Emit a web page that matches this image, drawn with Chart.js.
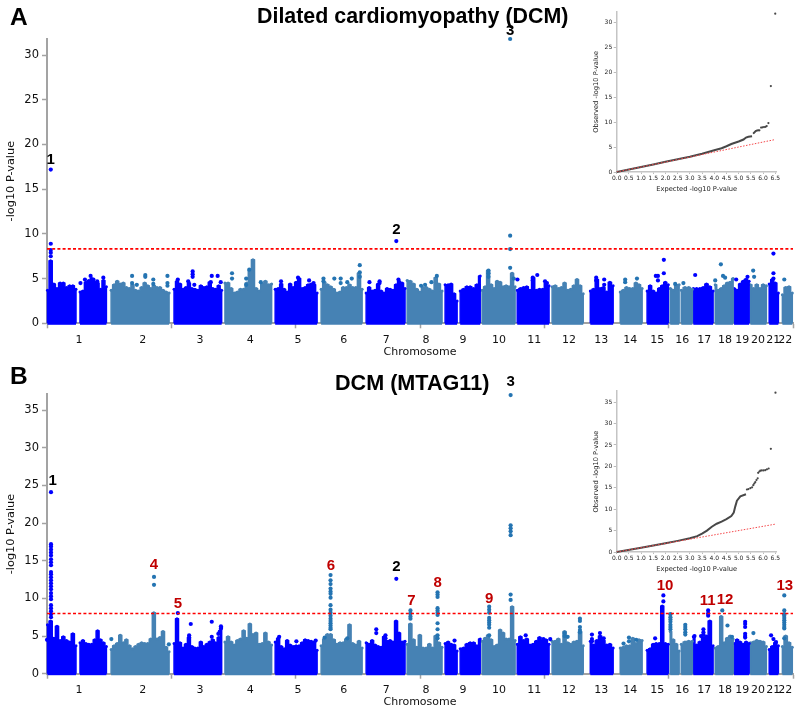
<!DOCTYPE html>
<html lang="en">
<head>
<meta charset="UTF-8">
<title>DCM Manhattan plots</title>
<script src="https://cdn.jsdelivr.net/npm/chart.js@4/dist/chart.umd.js"></script>
<style>
body { margin: 0; background: #fff; width: 800px; height: 710px; position: relative; overflow: hidden; }
canvas { position: absolute; }
.txt { position: absolute; font-family: "Liberation Sans", Arial, sans-serif; font-weight: bold; color: #000; white-space: nowrap; line-height: 1; }
</style>
</head>
<body>
<canvas id="manA" width="800" height="360" style="left:0;top:0"></canvas>
<canvas id="manB" width="800" height="350" style="left:0;top:360px"></canvas>
<canvas id="qqA" width="215" height="200" style="left:585px;top:0"></canvas>
<canvas id="qqB" width="215" height="200" style="left:585px;top:380px"></canvas>
<div class="txt" style="left:10px;top:5px;font-size:24.5px">A</div>
<div class="txt" style="left:10px;top:364px;font-size:24.5px">B</div>
<div class="txt" style="left:257px;top:6px;font-size:21.4px">Dilated cardiomyopathy (DCM)</div>
<div class="txt" style="left:335px;top:372px;font-size:21.6px">DCM (MTAG11)</div>
<script>
const BLUE = '#0000ff', STEEL = '#4682b4', STEEL_DOT = '#2474b2', GREY = '#a3a3a3';
const SANS = 'DejaVu Sans';

// genome position in Mb-like units along the x axis
const xMax = 3165;
const chrNames = ['1','2','3','4','5','6','7','8','9','10','11','12','13','14','15','16','17','18','19','20','21','22'];
const chrCenters = [136,406,649,862,1065,1259,1439,1608,1765,1918,2067,2215,2351,2474,2589,2695,2788,2877,2950,3017,3081,3132];

// chromosome blocks (chr 1, 9 and 16 are split by their gaps)
const segStart = [2,140,272,539,755,968,1163,1354,1528,1689,1753,1846,1995,2143,2305,2432,2546,2644,2691,2742,2835,2915,2984,3064,3120];
const segEnd = [123,252,518,741,953,1146,1337,1519,1676,1740,1838,1986,2130,2275,2402,2525,2636,2682,2738,2826,2911,2979,3052,3103,3162];
const segChr = [1,1,2,3,4,5,6,7,8,9,9,10,11,12,13,14,15,16,16,17,18,19,20,21,22];

// top of the solid band, left to right in each block
const bandA = [
  [3.7,7.0,4.4,3.9,4.5,4.5,4.0,4.2,4.2,3.8],
  [3.5,3.6,4.6,4.8,5.0,4.6,4.5,3.8,4.8,4.1],
  [3.7,4.3,4.7,4.4,4.5,4.0,3.9,4.3,3.7,3.6,4.0,4.5,4.2,3.9,4.2,4.0,4.0,3.7,3.5,3.4],
  [3.8,4.7,4.4,3.8,4.0,4.5,3.9,3.8,3.7,4.2,4.0,4.1,4.6,3.9,3.8,4.2,3.7],
  [4.5,4.5,3.9,3.4,3.5,3.8,3.8,4.5,5.9,7.1,3.9,3.6,4.4,4.7,4.3,4.4],
  [3.8,3.9,4.4,3.8,3.5,4.4,4.0,4.6,5.0,3.9,4.0,4.3,4.4,4.3,3.4],
  [3.8,4.6,4.3,4.1,3.8,3.4,3.5,4.0,4.0,4.3,4.0,4.0,5.6,3.8],
  [3.4,4.0,3.6,3.7,4.4,3.6,3.4,3.9,3.8,3.7,4.3,4.7,4.5,3.9],
  [4.8,4.7,4.4,3.8,3.5,4.0,4.0,3.8,3.6,5.1,4.4,3.6],
  [4.3,4.3,4.4,3.3,2.5],
  [3.6,3.8,4.1,4.1,3.9,4.3,5.3],
  [3.7,4.1,5.9,4.3,3.9,4.7,4.6,4.1,4.2,4.1,5.6,4.1],
  [3.7,3.9,4.0,4.1,3.7,5.1,3.7,3.8,3.8,4.5,4.2],
  [4.1,4.2,3.9,4.0,4.5,3.7,3.8,4.2,4.9,4.2,3.3],
  [3.6,3.8,4.9,3.9,4.0,3.5,4.6,4.2],
  [3.5,3.7,4.0,3.9,3.9,4.5,4.3,3.9],
  [3.6,4.2,3.6,3.4,3.9,4.2,4.6,4.3],
  [3.9,3.7,4.3,4.3],
  [3.7,4.0,4.0,3.8],
  [3.9,3.9,3.9,4.0,4.4,4.1,3.6],
  [4.3,3.7,3.9,4.2,4.5,4.6,5.0],
  [3.9,3.7,4.4,4.7,4.9,4.7],
  [4.3,3.9,4.3,3.9,4.3,4.2],
  [4.4,4.9,4.5,3.4],
  [3.2,4.0,4.1,3.4]
];
const bandB = [
  [6.5,7.0,4.7,6.3,4.4,4.9,4.4,4.2,5.3,3.7],
  [4.1,4.4,4.0,3.9,3.9,4.5,5.7,4.5,4.1,3.6],
  [3.2,3.7,4.0,5.1,4.1,4.5,3.7,3.3,3.6,3.9,4.1,4.0,4.0,4.6,8.1,4.6,4.8,5.6,3.5,2.9],
  [4.0,7.3,4.1,3.4,3.9,4.8,3.6,3.4,3.4,4.2,3.6,3.9,4.2,4.5,4.1,4.8,6.1],
  [4.2,4.9,4.2,3.8,4.4,4.6,5.7,4.7,6.6,5.2,5.4,3.9,4.0,5.4,4.2,3.8],
  [4.2,4.7,3.6,3.3,4.4,3.8,3.6,3.7,3.7,4.1,4.5,4.4,4.3,4.2,3.1],
  [3.7,4.6,5.2,5.2,4.5,3.9,4.1,4.1,4.6,6.5,4.0,3.8,4.3,3.4],
  [4.1,3.9,4.4,3.8,3.6,3.5,4.9,4.3,4.4,4.2,7.0,5.4,4.2,4.3],
  [3.9,6.6,4.5,3.5,5.1,3.4,3.4,3.9,3.4,5.0,4.1,3.5],
  [4.0,4.2,3.9,3.8,3.0],
  [3.3,3.4,3.9,4.1,4.1,3.7,4.6],
  [4.3,4.7,5.1,4.5,3.6,3.8,5.8,5.4,4.6,4.6,8.9,4.4],
  [3.9,4.9,4.4,4.6,3.8,3.9,4.3,4.8,4.4,4.5,3.9],
  [4.3,4.3,4.6,3.9,5.6,4.1,3.9,4.2,4.3,5.6,3.7],
  [4.3,3.8,4.4,5.0,4.4,3.8,3.9,3.4],
  [3.4,3.5,3.7,3.7,4.7,4.0,4.5,4.4],
  [3.1,3.3,3.9,4.0,4.0,9.0,4.0,3.9],
  [5.6,4.5,3.9,3.0],
  [3.9,4.2,4.3,4.3],
  [4.9,3.8,4.2,4.8,5.0,7.0,3.7],
  [3.4,3.6,7.6,4.1,4.7,5.0,4.6],
  [4.0,4.5,4.2,3.9,4.2,4.0],
  [4.1,4.2,4.4,4.3,4.2,3.6],
  [3.2,3.6,4.1,3.7],
  [3.6,5.0,4.1,3.5]
];

// single SNPs standing clear of the band [position, -log10 P]
const dotsBlueA = [[16,17.2],[16,8.9],[16,8.2],[16,7.9],[16,7.5],[142,4.5],[185,5.3],[239,5.1],[161,4.9],[197,4.9],[213,4.7],
  [555,4.9],[618,5.8],[618,5.5],[618,5.2],[625,4.3],[599,4.7],[699,5.3],[724,5.3],[737,4.6],[695,4.6],
  [993,4.7],[1065,5.1],[1112,4.8],[1131,4.5],[1368,4.6],[1411,4.5],[1411,4.7],[1482,9.2],[1491,4.9],
  [1996,4.9],[2080,5.4],[2061,5.1],[2061,4.8],[2113,4.7],[2121,4.5],[2330,5.1],[2330,4.8],[2364,4.9],[2364,4.3],
  [2617,7.1],[2617,5.6],[2583,5.3],[2592,4.8],[2592,5.3],[2750,5.4],[2924,4.9],[2972,5.2],[2963,4.8],[3082,7.8],[3082,5.6],[3082,5.0]];
const dotsSteelA = [[361,5.3],[361,4.5],[417,5.4],[417,5.2],[451,4.9],[451,4.4],[511,5.3],[511,4.5],[511,4.2],[381,4.3],
  [785,5.6],[785,5.0],[845,5.0],[845,4.3],[858,6.0],[907,4.6],[1173,5.0],[1173,4.7],[1219,5.0],[1246,5.0],[1246,4.5],[1293,5.0],[1274,4.6],[1327,6.5],[1327,5.7],[1327,5.2],
  [1654,5.3],[1631,4.6],[1604,4.3],[1587,4.2],[1965,31.8],[1965,9.8],[1965,8.3],[1965,6.2],[1873,5.9],[1873,5.6],[1873,5.2],[1980,5.0],
  [2453,4.9],[2453,4.6],[2503,5.0],[2700,4.5],[2665,4.4],[2859,6.6],[2868,5.3],[2877,5.1],[2835,4.8],[2996,5.9],[3000,5.2],[3128,4.9]];
const dotsBlueB = [[17,24.1],[17,17.2],[17,16.9],[17,16.5],[17,16.1],[17,15.7],[17,15.2],[17,14.8],[17,14.4],[17,13.5],[17,13.2],[17,12.8],[17,12.4],[17,12.0],[17,11.6],[17,11.2],[17,10.7],[17,10.3],[17,9.9],[17,9.1],[17,8.7],[17,8.3],[17,7.9],[17,7.5],[0,4.5],
  [555,8.05],[610,6.6],[699,6.9],[699,4.9],[738,6.3],[738,6.0],[727,5.3],[733,5.6],[603,5.1],[603,4.8],
  [985,4.9],[1058,4.3],[1140,4.4],[1397,5.9],[1397,5.4],[1436,5.1],[1436,4.7],[1482,12.6],
  [1729,4.4],[2031,5.1],[2106,4.6],[2135,4.6],[2312,5.2],[2312,4.6],[2312,4.3],[2346,5.4],[2362,4.7],
  [2615,10.4],[2615,9.6],[2580,4.7],[2805,8.4],[2805,8.0],[2805,7.7],[2747,5.0],[2775,5.0],[2785,5.9],[2785,5.5],[2785,5.2],
  [2962,6.9],[2962,6.6],[2962,6.2],[2962,5.3],[2962,5.0],[2962,4.8],[3072,5.1],[3082,4.6],[3093,4.2]];
const dotsSteelB = [[454,12.85],[454,11.8],[273,4.6],[517,3.9],
  [1203,13.1],[1203,12.4],[1203,11.9],[1203,11.3],[1203,10.9],[1203,10.6],[1203,10.1],[1203,9.1],[1203,8.5],[1203,8.1],[1203,7.7],[1203,7.3],[1203,7.0],[1203,6.7],[1203,6.4],[1203,6.1],[1203,5.9],[1178,4.8],[1274,4.7],
  [1542,8.4],[1542,8.0],[1542,7.6],[1542,7.3],[1657,10.8],[1657,10.5],[1657,10.2],[1657,8.7],[1657,8.4],[1657,8.1],[1657,7.8],[1657,6.7],[1657,5.9],[1657,5.1],[1657,4.7],
  [1876,8.9],[1876,8.5],[1876,8.1],[1876,7.4],[1876,7.1],[1876,6.8],[1876,6.5],[1876,6.1],[1876,5.1],
  [1967,37.0],[1967,19.7],[1967,19.3],[1967,18.9],[1967,18.4],[1967,10.5],[1967,9.8],
  [2261,7.3],[2261,7.0],[2261,6.2],[2261,5.8],[2261,5.5],[2196,5.4],[2196,5.0],[2209,4.9],[2446,4.0],[2469,4.8],[2469,4.3],[2500,4.5],
  [2645,7.9],[2645,7.5],[2645,7.2],[2645,6.9],[2645,6.5],[2645,6.2],[2645,5.9],[2708,6.5],[2708,6.2],[2708,5.9],[2708,5.5],[2708,5.2],
  [2865,8.4],[2887,6.4],[2906,4.9],[2997,5.4],[3128,10.4],[3128,8.4],[3128,7.9],[3128,7.7],[3128,7.4],[3128,7.1],[3128,6.8],[3128,6.5],[3128,6.2],[3128,6.0],[3128,4.7]];

// numbered loci [text, position, height]
const lociA = [['1',16,18.3],['2',1482,10.4],['3',1965,32.7]];
const lociB = [['1',24,25.6],['2',1482,14.2],['3',1967,38.7]];
const lociRedB = [['4',454,14.4],['5',555,9.3],['6',1205,14.3],['7',1546,9.7],['8',1657,12.1],['9',1876,10],['10',2622,11.7],['11',2803,9.7],['12',2877,9.8],['13',3130,11.7]];

const thresholdA = 8.32, thresholdB = 8.0;

// QQ insets
const qqCurveA = [[0,0],[0.5,0.5],[1,1],[1.5,1.5],[2,2.05],[2.5,2.55],[3,3.05],[3.5,3.65],[4,4.35],[4.3,4.75],[4.5,5.15],[4.7,5.6],[5,6.1],[5.2,6.5],[5.3,6.9],[5.4,7.05],[5.55,7.15]];
const qqTailA = [[5.62,7.8],[5.66,8.0],[5.7,8.2],[5.75,8.3],[5.8,8.35],[5.85,8.35],[5.92,8.9],[5.98,8.95],[6.04,9.0],[6.1,9.05],[6.15,9.2],[6.22,9.8],[6.32,17.2],[6.5,31.7]];
const qqCurveB = [[0,0],[1,1],[2,2.05],[2.5,2.6],[3,3.2],[3.3,3.7],[3.5,4.3],[3.7,5],[3.9,5.9],[4.1,6.6],[4.3,7.1],[4.5,7.7],[4.7,8.4],[4.8,9.2],[4.86,10.6],[4.93,12],[5.07,13],[5.3,13.5]];
const qqTailB = [[5.34,14.6],[5.4,14.7],[5.48,14.9],[5.55,15.1],[5.6,15.6],[5.64,16],[5.68,16.3],[5.73,16.8],[5.78,17.2],[5.8,18.5],[5.85,18.8],[5.89,19],[5.95,19.05],[6.02,19.05],[6.09,19.1],[6.16,19.3],[6.23,19.5],[6.32,24.1],[6.51,37.2]];

// draws the locus numbers through the chart's own scales
const lociLabels = {
  id: 'lociLabels',
  afterDatasetsDraw(chart, args, opts) {
    const c = chart.ctx;
    c.save();
    c.font = 'bold 15px "Liberation Sans"';
    c.textAlign = 'center';
    c.textBaseline = 'middle';
    opts.sets.forEach(s => {
      c.fillStyle = s.color;
      s.items.forEach(l => c.fillText(l[0], chart.scales.x.getPixelForValue(l[1]), chart.scales.y.getPixelForValue(l[2])));
    });
    c.restore();
  }
};

function toPts(list) {
  return list.map(p => ({ x: p[0], y: p[1] }));
}

function bandDatasets(band) {
  const out = [];
  band.forEach((h, i) => {
    const col = segChr[i] % 2 ? BLUE : STEEL;
    const dx = (segEnd[i] - segStart[i]) / (h.length - 1);
    const pts = [{ x: segStart[i], y: 0 }];
    h.forEach((v, k) => pts.push({ x: segStart[i] + k * dx, y: v }));
    pts.push({ x: segEnd[i], y: 0 });
    out.push({ data: pts, showLine: true, stepped: 'middle', fill: 'origin', backgroundColor: col, borderColor: col, borderWidth: 1.5, borderJoinStyle: 'round', pointRadius: ctx => (ctx.parsed.y === 0 ? 0 : 1.5), pointBackgroundColor: col, pointBorderWidth: 0, clip: false });
    // bottom edge, the lowest SNPs hang just under the axis
    out.push({ data: [{ x: segStart[i], y: 0 }, { x: segEnd[i], y: 0 }], showLine: true, borderColor: col, borderWidth: 3, pointRadius: 0, clip: false });
  });
  return out;
}

function manhattan(id, band, blue, steel, thr, yMax, top, loci, xTitleBottom) {
  new Chart(document.getElementById(id), {
    type: 'scatter',
    plugins: [lociLabels],
    data: {
      datasets: [
        { data: [{ x: 0, y: thr }, { x: xMax, y: thr }], showLine: true, borderColor: '#ff0000', borderWidth: 1.6, borderDash: [3, 2.2], pointRadius: 0 },
        { data: toPts(blue), backgroundColor: BLUE, borderWidth: 0, pointRadius: 2.1, clip: false },
        { data: toPts(steel), backgroundColor: STEEL_DOT, borderWidth: 0, pointRadius: 2.1, clip: false },
        ...bandDatasets(band)
      ]
    },
    options: {
      responsive: false,
      animation: false,
      layout: { padding: { top: top, right: 7, left: 0, bottom: 0 } },
      plugins: { legend: { display: false }, tooltip: { enabled: false }, lociLabels: { sets: loci } },
      scales: {
        x: {
          type: 'linear', min: 0, max: xMax,
          afterFit: s => { s.height = 6; },
          border: { color: GREY, width: 2 },
          grid: { drawOnChartArea: false, tickLength: 5, color: GREY, tickWidth: 1.5 },
          ticks: { stepSize: 500, includeBounds: false, display: false }
        },
        chr: {
          type: 'linear', axis: 'x', position: 'bottom', min: 0, max: xMax,
          afterBuildTicks: s => { s.ticks = chrCenters.map(v => ({ value: v })); },
          afterFit: s => { s.height = xTitleBottom; },
          border: { display: false },
          grid: { display: false, drawTicks: false },
          ticks: { autoSkip: false, maxRotation: 0, padding: 4, color: '#111', font: { family: SANS, size: 11 }, callback: (v, i) => chrNames[i] },
          title: { display: true, text: 'Chromosome', color: '#111', font: { family: SANS, size: 11 }, padding: { top: 0, bottom: 1 } }
        },
        y: {
          type: 'linear', min: 0, max: yMax,
          afterFit: s => { s.width = 47; },
          border: { color: GREY, width: 2 },
          grid: { drawOnChartArea: false, tickLength: 5, color: GREY, tickWidth: 1.5 },
          ticks: { stepSize: 5, includeBounds: false, padding: 3, color: '#111', font: { family: SANS, size: 11.5 } },
          title: { display: true, text: '-log10 P-value', color: '#111', font: { family: SANS, size: 11.3 }, padding: { top: 4, bottom: 0 } }
        }
      }
    }
  });
}

function qq(id, curve, tail, yMax, top) {
  new Chart(document.getElementById(id), {
    type: 'scatter',
    data: {
      datasets: [
        { data: [{ x: 0, y: 0 }, { x: 6.5, y: 6.5 }], showLine: true, borderColor: '#f4474a', borderWidth: 1, borderDash: [1.5, 1.5], pointRadius: 0 },
        { data: toPts(curve), showLine: true, borderColor: '#484848', borderWidth: 2, pointRadius: 0, clip: false },
        { data: toPts(tail), backgroundColor: '#484848', borderWidth: 0, pointRadius: 1.1, clip: false }
      ]
    },
    options: {
      responsive: false,
      animation: false,
      layout: { padding: { top: top, right: 23.3, left: 0, bottom: 0 } },
      plugins: { legend: { display: false }, tooltip: { enabled: false } },
      scales: {
        x: {
          type: 'linear', min: 0, max: 6.56,
          afterFit: s => { s.height = 28; },
          border: { color: '#c4c4c4', width: 1.5 },
          grid: { drawOnChartArea: false, tickLength: 2, color: '#bbb' },
          ticks: { stepSize: 0.5, includeBounds: false, autoSkip: false, maxRotation: 0, padding: 1, color: '#222', font: { family: SANS, size: 6 }, callback: v => v.toFixed(1) },
          title: { display: true, text: 'Expected -log10 P-value', color: '#222', font: { family: SANS, size: 6.7 }, padding: { top: 0, bottom: 7 } }
        },
        y: {
          type: 'linear', min: 0, max: yMax,
          afterFit: s => { s.width = 31.7; },
          border: { color: '#c4c4c4', width: 1.5 },
          grid: { drawOnChartArea: false, tickLength: 3, color: '#bbb' },
          ticks: { stepSize: 5, includeBounds: false, padding: 1.5, color: '#222', font: { family: SANS, size: 6 } },
          title: { display: true, text: 'Observed -log10 P-value', color: '#222', font: { family: SANS, size: 6.7 }, padding: { top: 7, bottom: 0 } }
        }
      }
    }
  });
}

manhattan('manA', bandA, dotsBlueA, dotsSteelA, thresholdA, 31.8, 39, [{ color: '#000', items: lociA }], 30.7);
manhattan('manB', bandB, dotsBlueB, dotsSteelB, thresholdB, 37.1, 34.3, [{ color: '#000', items: lociB }, { color: '#c00000', items: lociRedB }], 30.3);
qq('qqA', qqCurveA, qqTailA, 32.1, 11.7);
qq('qqB', qqCurveB, qqTailB, 37.6, 11);
</script>
</body>
</html>
